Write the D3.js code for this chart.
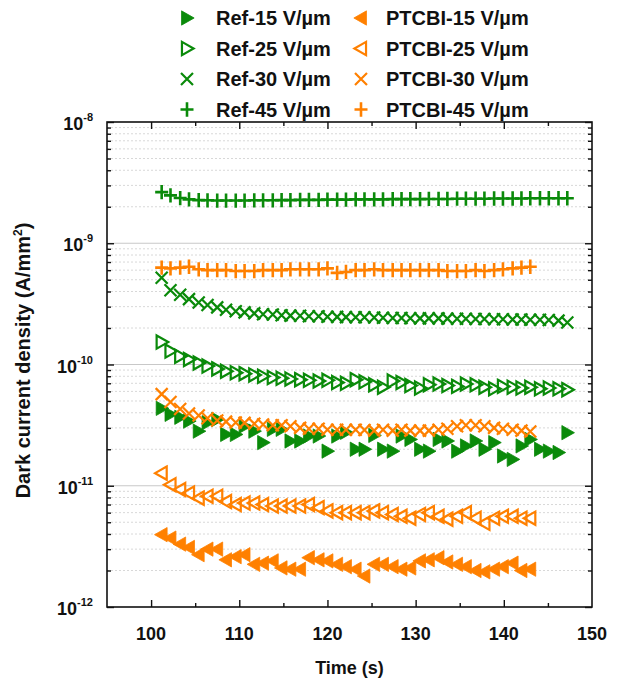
<!DOCTYPE html>
<html>
<head>
<meta charset="utf-8">
<script src="https://cdn.jsdelivr.net/npm/d3@7"></script>
<style>
  body { margin: 0; background: #fff; }
  svg { display: block; }
</style>
</head>
<body>
<div id="chart"></div>
<script>
// sample times (s)
const tRef = [101.2,102.2,103.3,104.3,105.4,106.4,107.5,108.5,109.6,110.6,111.7,112.7,113.8,114.8,115.8,116.9,117.9,119.0,120.0,121.1,122.1,123.2,124.2,125.3,126.3,127.4,128.4,129.4,130.5,131.5,132.6,133.6,134.7,135.7,136.8,137.8,138.9,139.9,141.0,142.0,143.0,144.1,145.1,146.2,147.2];
const tPT = [101.2,102.2,103.3,104.3,105.4,106.4,107.5,108.5,109.6,110.6,111.7,112.7,113.8,114.8,115.8,116.9,117.9,119.0,120.0,121.1,122.1,123.2,124.2,125.3,126.3,127.4,128.4,129.4,130.5,131.5,132.6,133.6,134.7,135.7,136.8,137.8,138.9,139.9,141.0,142.0,143.0];

// dark current density (A/mm^2)
const ref15 = [4.35e-11,3.88e-11,3.67e-11,3.41e-11,2.82e-11,3.31e-11,3.52e-11,2.65e-11,2.65e-11,3.1e-11,2.82e-11,2.27e-11,2.92e-11,2.92e-11,2.34e-11,2.34e-11,2.57e-11,2.57e-11,1.93e-11,2.57e-11,2.76e-11,2.0e-11,2.0e-11,2.6e-11,2.0e-11,1.93e-11,2.57e-11,2.41e-11,2.0e-11,1.93e-11,2.41e-11,2.34e-11,1.93e-11,2.13e-11,2.34e-11,2.0e-11,2.27e-11,1.76e-11,1.65e-11,2.13e-11,2.41e-11,2.0e-11,1.93e-11,1.88e-11,2.74e-11];
const ref25 = [15.3,12.9,11.7,11.0,10.3,9.7,9.2,8.8,8.55,8.4,8.2,8.0,7.8,7.7,7.6,7.5,7.4,7.3,7.4,7.1,7.0,7.5,7.2,6.8,6.5,7.3,7.1,6.7,6.4,6.8,6.9,6.7,6.6,6.9,6.8,6.5,6.3,6.6,6.5,6.4,6.5,6.3,6.4,6.3,6.2].map(v => v * 1e-11);
const ref30 = [5.2,4.1,3.76,3.46,3.25,3.09,2.96,2.83,2.75,2.69,2.64,2.6,2.58,2.55,2.53,2.52,2.5,2.5,2.48,2.47,2.46,2.45,2.45,2.44,2.43,2.42,2.42,2.41,2.4,2.4,2.4,2.39,2.38,2.38,2.37,2.37,2.36,2.36,2.35,2.35,2.34,2.34,2.33,2.3,2.22].map(v => v * 1e-10);
const ref45 = [2.64,2.48,2.36,2.30,2.27,2.26,2.25,2.25,2.25,2.25,2.26,2.26,2.26,2.27,2.27,2.28,2.28,2.28,2.29,2.29,2.29,2.30,2.30,2.30,2.30,2.31,2.31,2.31,2.31,2.32,2.32,2.32,2.33,2.33,2.33,2.33,2.34,2.34,2.34,2.34,2.35,2.35,2.35,2.35,2.35].map(v => v * 1e-9);
const pt15 = [3.95,3.7,3.3,3.1,2.7,3.0,3.0,2.45,2.6,2.7,2.25,2.3,2.4,2.1,2.05,2.05,2.55,2.45,2.4,2.25,2.15,2.05,1.8,2.25,2.25,2.15,2.05,2.1,2.4,2.45,2.55,2.35,2.25,2.15,2.0,1.95,2.05,2.15,2.3,2.0,2.05].map(v => v * 1e-12);
const pt25 = [12.7,10.2,9.3,8.7,7.9,8.2,8.2,7.4,7.0,7.2,7.2,7.0,6.8,6.8,6.8,6.8,7.0,6.6,6.2,6.0,6.0,6.0,6.0,6.2,6.0,5.8,5.6,5.4,5.8,6.0,5.6,5.3,5.6,6.0,5.4,4.9,5.4,5.6,5.6,5.4,5.4].map(v => v * 1e-12);
const pt30 = [5.7,4.9,4.3,3.95,3.8,3.6,3.45,3.38,3.33,3.3,3.25,3.2,3.15,3.15,3.1,3.0,2.95,2.95,2.9,2.9,2.9,2.9,2.88,2.85,2.9,2.85,2.9,2.85,2.85,2.85,2.9,2.95,3.1,3.15,3.15,3.1,3.0,2.95,2.9,2.85,2.8].map(v => v * 1e-11);
const pt45 = [6.3,6.2,6.3,6.4,6.1,6.0,6.0,6.0,5.9,5.9,5.9,6.0,6.0,6.0,6.1,6.1,6.1,6.1,6.2,5.7,5.8,6.0,6.0,6.1,6.0,6.0,6.0,6.0,6.0,6.0,6.0,5.9,5.9,5.9,6.0,5.9,6.0,6.1,6.2,6.3,6.4].map(v => v * 1e-10);

const xTicks = [100, 110, 120, 130, 140, 150];
const xMinorTicks = [105, 115, 125, 135, 145];
const yDecades = [-12, -11, -10, -9, -8];

const green = "#0a8a0a", orange = "#ff8000";
const fontFamily = "'Liberation Sans', Arial, sans-serif";

const series = [
  { name: "Ref-15 V/\u00b5m", t: tRef, v: ref15, color: green, shape: "triR", fill: true },
  { name: "Ref-25 V/\u00b5m", t: tRef, v: ref25, color: green, shape: "triR", fill: false },
  { name: "Ref-30 V/\u00b5m", t: tRef, v: ref30, color: green, shape: "x" },
  { name: "Ref-45 V/\u00b5m", t: tRef, v: ref45, color: green, shape: "plus" },
  { name: "PTCBI-15 V/\u00b5m", t: tPT, v: pt15, color: orange, shape: "triL", fill: true },
  { name: "PTCBI-25 V/\u00b5m", t: tPT, v: pt25, color: orange, shape: "triL", fill: false },
  { name: "PTCBI-30 V/\u00b5m", t: tPT, v: pt30, color: orange, shape: "x" },
  { name: "PTCBI-45 V/\u00b5m", t: tPT, v: pt45, color: orange, shape: "plus" }
];

const width = 636, height = 683;
const margin = { left: 107, top: 122, right: 44, bottom: 76 };
const innerWidth = width - margin.left - margin.right;
const innerHeight = height - margin.top - margin.bottom;

const svg = d3.select("#chart").append("svg")
  .attr("width", width)
  .attr("height", height)
  .attr("viewBox", `0 0 ${width} ${height}`)
  .attr("font-family", fontFamily)
  .attr("font-weight", "bold");

const inner = svg.append("g")
  .attr("transform", `translate(${margin.left}, ${margin.top})`);

const xScale = d3.scaleLinear().domain([95, 150]).range([0, innerWidth]);
const yScale = d3.scaleLog().domain([1e-12, 1e-8]).range([innerHeight, 0]);

// minor values 2..9 per decade
const yMinor = [];
yDecades.slice(0, -1).forEach(e => { for (let k = 2; k <= 9; k++) yMinor.push(k * Math.pow(10, e)); });

// grid
inner.append("g").selectAll("line")
  .data(yMinor).enter().append("line")
  .attr("x1", 0).attr("x2", innerWidth)
  .attr("y1", d => yScale(d)).attr("y2", d => yScale(d))
  .attr("stroke", "#d8d8d8").attr("stroke-width", 1).attr("stroke-dasharray", "2,2");
inner.append("g").selectAll("line")
  .data(yDecades.slice(1, -1)).enter().append("line")
  .attr("x1", 0).attr("x2", innerWidth)
  .attr("y1", d => yScale(Math.pow(10, d))).attr("y2", d => yScale(Math.pow(10, d)))
  .attr("stroke", "#c8c8c8").attr("stroke-width", 1.2);

// marker path
function markerPath(shape, s) {
  const p = d3.path();
  if (shape === "triR") {
    p.moveTo(-s * 0.42, -s * 0.55); p.lineTo(s * 0.55, 0); p.lineTo(-s * 0.42, s * 0.55); p.closePath();
  } else if (shape === "triL") {
    p.moveTo(s * 0.42, -s * 0.55); p.lineTo(-s * 0.55, 0); p.lineTo(s * 0.42, s * 0.55); p.closePath();
  } else if (shape === "x") {
    p.moveTo(-s * 0.48, -s * 0.48); p.lineTo(s * 0.48, s * 0.48);
    p.moveTo(-s * 0.48, s * 0.48); p.lineTo(s * 0.48, -s * 0.48);
  } else {
    p.moveTo(-s * 0.5, 0); p.lineTo(s * 0.5, 0);
    p.moveTo(0, -s * 0.55); p.lineTo(0, s * 0.55);
  }
  return p.toString();
}

function styleMarker(sel, d) {
  const filled = d.fill === true;
  const tri = d.shape === "triR" || d.shape === "triL";
  sel.attr("d", markerPath(d.shape, tri ? (filled ? 13 : 12) : (d.shape === "plus" ? 13 : 12.5)))
    .attr("fill", filled ? d.color : "none")
    .attr("stroke", d.color)
    .attr("stroke-width", filled ? 0.8 : (d.shape === "plus" ? 2.6 : 2.2))
    .attr("stroke-linejoin", "miter");
}

// draw series
series.forEach(s => {
  const pts = s.t.map((t, i) => ({ t: t, v: s.v[i] }));
  inner.append("g").selectAll("path")
    .data(pts).enter().append("path")
    .attr("transform", d => `translate(${xScale(d.t)}, ${yScale(d.v)})`)
    .each(function () { styleMarker(d3.select(this), s); });
});

// axes: ticks inward on all sides
const yMajorVals = yDecades.map(e => Math.pow(10, e));
const axes = [
  [d3.axisBottom(xScale).tickValues(xMinorTicks).tickSize(-4), `translate(0, ${innerHeight})`],
  [d3.axisBottom(xScale).tickValues(xTicks.slice(0, -1)).tickSize(-7), `translate(0, ${innerHeight})`],
  [d3.axisTop(xScale).tickValues(xMinorTicks).tickSize(-4), null],
  [d3.axisTop(xScale).tickValues(xTicks.slice(0, -1)).tickSize(-7), null],
  [d3.axisLeft(yScale).tickValues(yMinor).tickSize(-4), null],
  [d3.axisLeft(yScale).tickValues(yMajorVals).tickSize(-7), null],
  [d3.axisRight(yScale).tickValues(yMinor).tickSize(-4), `translate(${innerWidth}, 0)`],
  [d3.axisRight(yScale).tickValues(yMajorVals).tickSize(-7), `translate(${innerWidth}, 0)`]
];
axes.forEach(([ax, tr]) => {
  const g = inner.append("g").call(ax.tickFormat(""));
  if (tr) g.attr("transform", tr);
  g.attr("font-family", null).attr("font-size", null);
  g.select(".domain").remove();
  g.selectAll(".tick text").remove();
  g.selectAll(".tick line").attr("stroke", "#111").attr("stroke-width", 1.4);
});

// frame
inner.append("rect")
  .attr("width", innerWidth).attr("height", innerHeight)
  .attr("fill", "none").attr("stroke", "#111").attr("stroke-width", 1.6);

// x tick labels
inner.append("g").selectAll("text")
  .data(xTicks).enter().append("text")
  .attr("x", d => xScale(d))
  .attr("y", innerHeight + 33)
  .attr("text-anchor", "middle")
  .attr("font-size", 18)
  .attr("fill", "#111")
  .text(d => d);

// y tick labels 10^n
const yl = inner.append("g").selectAll("text")
  .data(yDecades).enter().append("text")
  .attr("x", -14)
  .attr("y", d => yScale(Math.pow(10, d)) + 8)
  .attr("text-anchor", "end")
  .attr("font-size", 18)
  .attr("fill", "#111");
yl.append("tspan").text("10");
yl.append("tspan").attr("dy", -9).attr("font-size", 11).text(d => d);

// axis titles
inner.append("text")
  .attr("x", innerWidth / 2).attr("y", innerHeight + 67)
  .attr("text-anchor", "middle")
  .attr("font-size", 18)
  .attr("fill", "#111")
  .text("Time (s)");

const yt = inner.append("text")
  .attr("transform", `translate(-77, ${innerHeight / 2 - 4}) rotate(-90)`)
  .attr("text-anchor", "middle")
  .attr("font-size", 20)
  .attr("fill", "#111");
yt.append("tspan").text("Dark current density (A/mm");
yt.append("tspan").attr("dy", -8).attr("font-size", 12).text("2");
yt.append("tspan").attr("dy", 8).text(")");

// legend: two columns, four rows
const legendItem = svg.append("g").selectAll("g")
  .data(series).enter().append("g")
  .attr("transform", (d, i) => `translate(${i < 4 ? 187 : 361}, ${18 + (i % 4) * 30.5})`);
legendItem.append("path").each(function (d) { styleMarker(d3.select(this), d); });
legendItem.append("text")
  .attr("x", (d, i) => i < 4 ? 29 : 25)
  .attr("y", 7)
  .attr("font-size", 20)
  .attr("fill", "#111")
  .text(d => d.name);
</script>
</body>
</html>
